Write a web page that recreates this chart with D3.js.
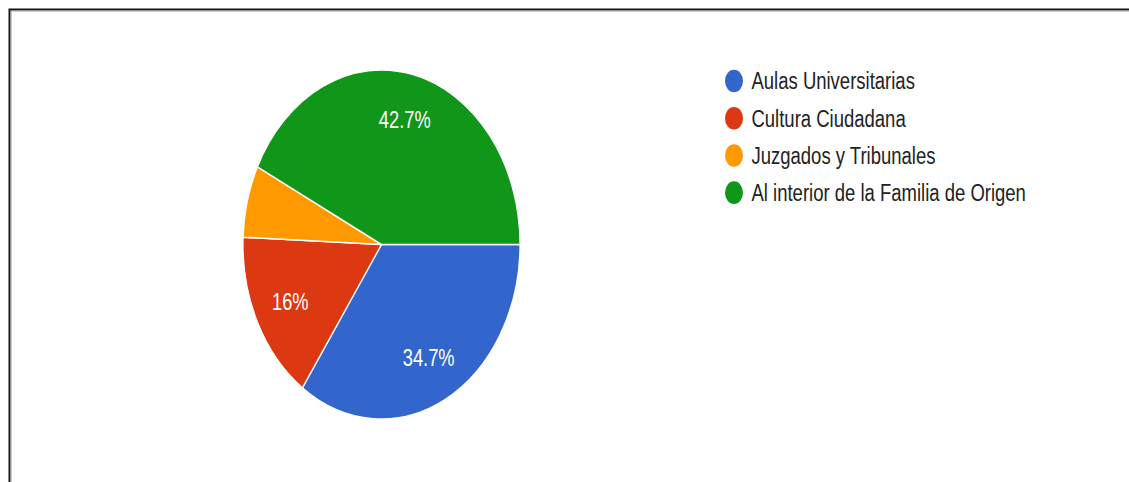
<!DOCTYPE html>
<html>
<head>
<meta charset="utf-8">
<script src="https://cdn.jsdelivr.net/npm/d3@7"></script>
<style>
  html, body { margin: 0; padding: 0; background: #fff; }
  svg { display: block; }
  text { font-family: "Liberation Sans", Arial, sans-serif; }
</style>
</head>
<body>
<svg id="chart" width="1129" height="482"></svg>
<script>
// Responses per category
const categories = ["Aulas Universitarias", "Cultura Ciudadana", "Juzgados y Tribunales", "Al interior de la Familia de Origen"];
const responses = [26, 12, 5, 32];
const colors = ["#3366cc", "#dc3912", "#ff9900", "#109618"];

const W = 1129, H = 482;
const stretchY = 1.26;           // the chart is drawn taller than wide
const radius = 138.5;
const cx = 381.5, cy = 244.5;
const fontSize = 18.3;
const legendFontSize = 18.5;

const svg = d3.select("#chart");

// frame
svg.append("path")
  .attr("d", `M9.5,${H} V9.5 H${W}`)
  .attr("fill", "none").attr("stroke", "#151515").attr("stroke-width", 2);
svg.append("path")
  .attr("d", `M11,${H} V11 H${W}`)
  .attr("fill", "none").attr("stroke", "#9a9a9a").attr("stroke-width", 1);

const total = d3.sum(responses);
const pctFmt = v => {
  const s = d3.format(".1f")(v * 100);
  return (s.endsWith(".0") ? s.slice(0, -2) : s) + "%";
};

const pie = d3.pie().sort(null).value(d => d.value)
  .startAngle(Math.PI / 2).endAngle(Math.PI / 2 + 2 * Math.PI);
const data = categories.map((c, i) => ({ name: c, value: responses[i], color: colors[i] }));
const arcs = pie(data);

const arc = d3.arc().innerRadius(0).outerRadius(radius);
const labelArc = d3.arc().innerRadius(radius * 0.735).outerRadius(radius * 0.735);

const g = svg.append("g")
  .attr("transform", `translate(${cx},${cy}) scale(1,${stretchY})`);

g.selectAll("path.slice")
  .data(arcs)
  .join("path")
  .attr("class", "slice")
  .attr("d", arc)
  .attr("fill", d => d.data.color)
  .attr("stroke", "#fff")
  .attr("stroke-width", 1.2)
  .attr("stroke-linejoin", "round");

g.selectAll("text.pct")
  .data(arcs.filter(d => d.value / total >= 0.1))
  .join("text")
  .attr("class", "pct")
  .attr("transform", d => `translate(${labelArc.centroid(d)})`)
  .attr("text-anchor", "middle")
  .attr("dy", "0.36em")
  .attr("fill", "#fff")
  .attr("font-size", fontSize)
  .text(d => pctFmt(d.value / total));

// legend
const legendY = d3.scalePoint().domain(categories).range([81, 192.7]);
const legend = svg.append("g");
const items = legend.selectAll("g.item")
  .data(data)
  .join("g")
  .attr("class", "item")
  .attr("transform", d => `translate(734,${legendY(d.name)}) scale(1,${stretchY})`);

items.append("circle")
  .attr("r", 9)
  .attr("fill", d => d.color);

items.append("text")
  .attr("x", 17.5)
  .attr("y", 6.6)
  .attr("fill", "#222")
  .attr("font-size", legendFontSize)
  .text(d => d.name);
</script>
</body>
</html>
